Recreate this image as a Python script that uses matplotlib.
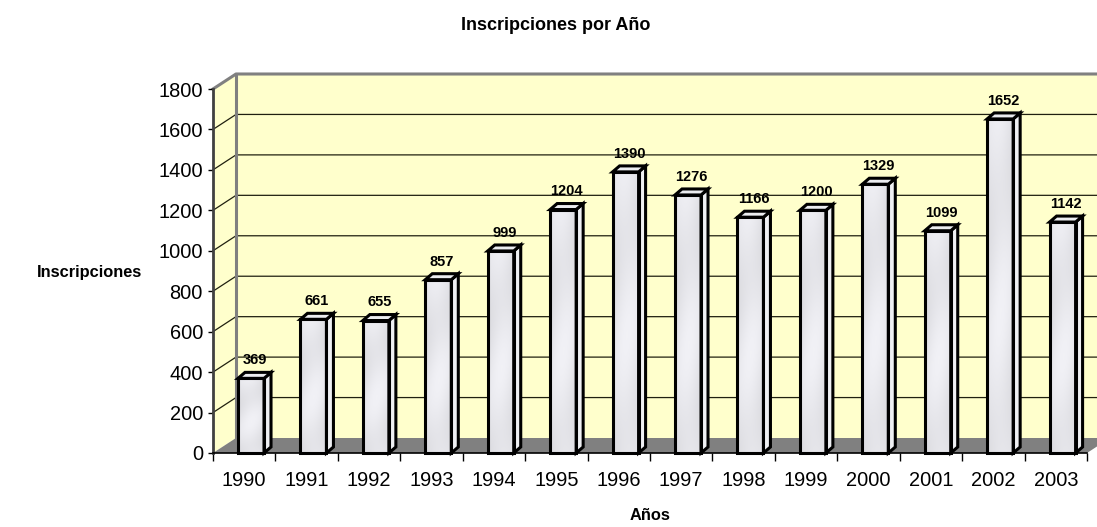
import numpy as np
import matplotlib.pyplot as plt
from matplotlib.patches import Polygon

# ==========================================================
# DATA
# ==========================================================

years = ["1990", "1991", "1992", "1993", "1994", "1995", "1996",
         "1997", "1998", "1999", "2000", "2001", "2002", "2003"]

inscripciones = [369, 661, 655, 857, 999, 1204, 1390,
                 1276, 1166, 1200, 1329, 1099, 1652, 1142]

y_ticks = [0, 200, 400, 600, 800, 1000, 1200, 1400, 1600, 1800]

# ==========================================================
# FIGURE / 3D LOOK
# ==========================================================

plt.rcParams['font.family'] = ['Liberation Sans', 'DejaVu Sans']

W, H = 1097, 527
fig = plt.figure(figsize=(W / 100, H / 100), dpi=100)
ax = fig.add_axes([213 / W, 74 / H, 874 / W, 364 / H])

n = len(years)
x0, x1 = -0.5, n - 0.5
ymax = y_ticks[-1]
ax.set_xlim(x0, x1)
ax.set_ylim(0, ymax)

px_x = 874 / n          # pixels per category
px_y = 364 / ymax       # pixels per unit
WALL_DX = 23 / px_x
WALL_DY = 15 / px_y
BAR_DX = 7 / px_x
BAR_DY = 6 / px_y
BAR_W = 26 / px_x
BAR_OFF = 6.8 / px_x

WALL = "#FFFFCC"
FLOOR = "#808080"
BORDER = "#808080"


def poly(pts, **kw):
    p = Polygon(pts, closed=True, clip_on=False, **kw)
    ax.add_patch(p)
    return p


# side wall and back wall
poly([(x0, 0), (x0, ymax), (x0 + WALL_DX, ymax + WALL_DY), (x0 + WALL_DX, WALL_DY)],
     facecolor=WALL, edgecolor="none", zorder=0)
poly([(x0 + WALL_DX, WALL_DY), (x0 + WALL_DX, ymax + WALL_DY),
      (x1 + WALL_DX, ymax + WALL_DY), (x1 + WALL_DX, WALL_DY)],
     facecolor=WALL, edgecolor="none", zorder=0)

# gridlines
for t in y_ticks[1:-1]:
    ax.plot([x0, x0 + WALL_DX, x1 + WALL_DX], [t, t + WALL_DY, t + WALL_DY],
            color="#202010", lw=0.9, clip_on=False, zorder=1)

# wall borders
ax.plot([x0, x0 + WALL_DX, x1 + WALL_DX], [ymax, ymax + WALL_DY, ymax + WALL_DY],
        color=BORDER, lw=2.2, clip_on=False, zorder=1)
ax.plot([x0 + WALL_DX, x0 + WALL_DX], [WALL_DY, ymax + WALL_DY],
        color=BORDER, lw=2.2, clip_on=False, zorder=1)

# floor
poly([(x0, 0), (x1, 0), (x1 + WALL_DX, WALL_DY), (x0 + WALL_DX, WALL_DY)],
     facecolor=FLOOR, edgecolor="none", zorder=2)

# marble-ish shading for the bar faces
gx = np.linspace(0, 1, 40)
gy = np.linspace(0, 1, 200)
GX, GY = np.meshgrid(gx, gy)
shade = 0.89 + 0.04 * np.sin(GX * 3.0) + 0.025 * np.cos(GY * 9.0 + GX * 2.0)
tex = np.dstack([shade * 0.99, shade * 0.99, shade * 1.01]).clip(0, 1)

for i, v in enumerate(inscripciones):
    bl = i + BAR_OFF - BAR_W / 2
    br = bl + BAR_W
    front = poly([(bl, 0), (br, 0), (br, v), (bl, v)],
                 facecolor="#e4e5e9", edgecolor="none", zorder=3)
    im = ax.imshow(tex, extent=(bl, br, 0, v), aspect="auto", zorder=3,
                   interpolation="bilinear")
    im.set_clip_path(front)
    poly([(br, 0), (br + BAR_DX, BAR_DY), (br + BAR_DX, v + BAR_DY), (br, v)],
         facecolor="#eff0f3", edgecolor="black", lw=2.2, joinstyle="miter", zorder=4)
    poly([(bl, v), (br, v), (br + BAR_DX, v + BAR_DY), (bl + BAR_DX, v + BAR_DY)],
         facecolor="#ebecef", edgecolor="black", lw=2.2, joinstyle="miter", zorder=4)
    poly([(bl, 0), (br, 0), (br, v), (bl, v)],
         facecolor="none", edgecolor="black", lw=2.2, joinstyle="miter", zorder=5)
    ax.annotate(str(v), xy=(br + BAR_DX / 2 - BAR_W / 2, v + BAR_DY),
                xytext=(0, 5.8), textcoords="offset points",
                ha="center", va="baseline", fontsize=10.5, fontweight="bold",
                zorder=6)

# ==========================================================
# AXES
# ==========================================================

for s in ["top", "right"]:
    ax.spines[s].set_visible(False)
ax.spines["left"].set_color("#404040")
ax.spines["left"].set_linewidth(2.0)
ax.spines["bottom"].set_color("black")
ax.spines["bottom"].set_linewidth(1.2)
ax.spines["left"].set_zorder(7)
ax.spines["bottom"].set_zorder(7)
ax.patch.set_visible(False)

ax.set_yticks(y_ticks)
ax.set_yticklabels([str(t) for t in y_ticks])
ax.tick_params(axis="y", direction="out", length=3.6, width=1, pad=3.6,
               labelsize=14.4, color="black")

ax.set_xticks(range(n))
ax.set_xticklabels(years)
ax.set_xticks(np.arange(n + 1) - 0.5, minor=True)
ax.tick_params(axis="x", which="major", length=0, pad=13, labelsize=14.4)
ax.tick_params(axis="x", which="minor", direction="out", length=6, width=1, color="black")

# ==========================================================
# TEXT
# ==========================================================

fig.text(556 / W, 1 - 25 / H, "Inscripciones por Año", ha="center", va="center",
         fontsize=13, fontweight="bold")
fig.text(90 / W, 1 - 272 / H, "Inscripciones", ha="center", va="center",
         fontsize=11.8, fontweight="bold")
fig.text(650 / W, 1 - 516 / H, "Años", ha="center", va="center",
         fontsize=11.8, fontweight="bold")

fig.savefig("out.png", dpi=100)
